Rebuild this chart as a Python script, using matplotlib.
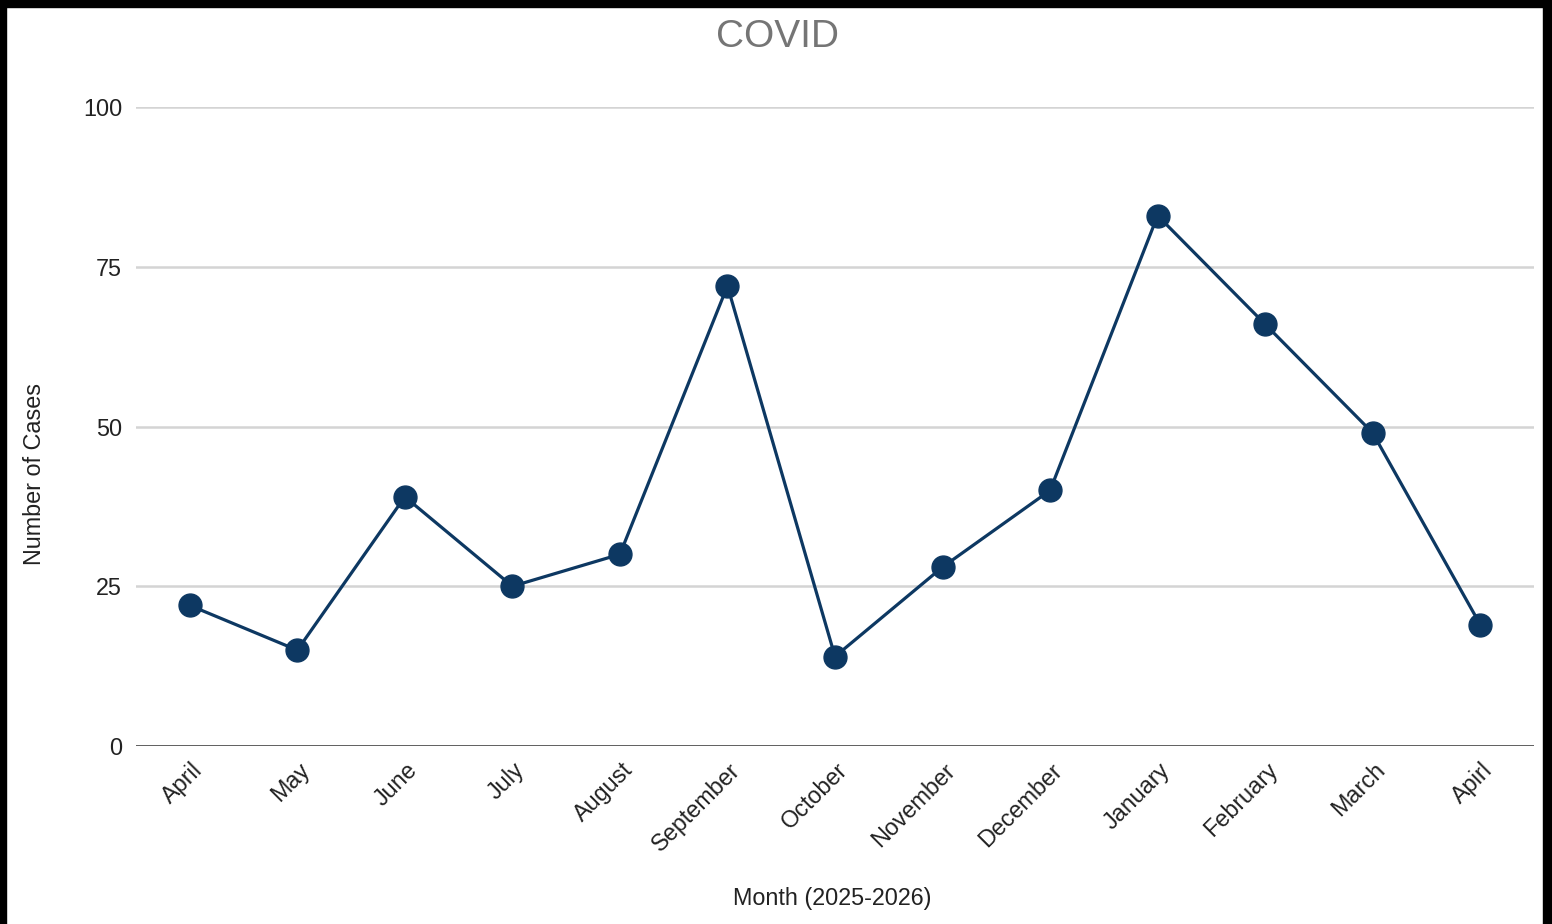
import matplotlib.pyplot as plt
import matplotlib.transforms as mtransforms
from matplotlib.patches import Rectangle

months = ["April", "May", "June", "July", "August", "September", "October",
          "November", "December", "January", "February", "March", "Apirl"]
cases = [22, 15, 39, 25, 30, 72, 14, 28, 40, 83, 66, 49, 19]
yticks = [0, 25, 50, 75, 100]

plt.rcParams['font.family'] = ['Liberation Sans', 'DejaVu Sans']

W, H = 1552, 924
fig = plt.figure(figsize=(W / 100, H / 100), dpi=100)
ax = fig.add_axes([136 / W, (H - 746) / H, (1534 - 136) / W, (746 - 107) / H])

x = list(range(len(months)))
ax.plot(x, cases, color="#0d3862", linewidth=2.3, marker="o",
        markersize=16.5, zorder=3, clip_on=False)

ax.set_xlim(-0.5, len(months) - 0.5)
ax.set_ylim(0, 100)
ax.set_yticks(yticks)
ax.set_yticklabels([str(v) for v in yticks], fontsize=16.8, color="#222222")
ax.tick_params(axis="y", length=0, pad=10)
ax.grid(axis="y", color="#d4d4d4", linewidth=1.8)
ax.axhline(0, color="#555555", linewidth=2.0, zorder=2)
for s in ax.spines.values():
    s.set_visible(False)

ax.set_xticks(x)
ax.set_xticklabels(months, fontsize=16.8, color="#222222", rotation=45,
                   ha="right", va="center", rotation_mode="anchor")
ax.tick_params(axis="x", length=0, pad=15)
off = mtransforms.ScaledTranslation(9 / 100, 0, fig.dpi_scale_trans)
for lab in ax.get_xticklabels():
    lab.set_transform(lab.get_transform() + off)

fig.text(777 / W, 1 - 37 / H, "COVID", fontsize=28, color="#757575",
         ha="center", va="center")
fig.text(832 / W, 1 - 899 / H, "Month (2025-2026)", fontsize=16.8,
         color="#222222", ha="center", va="center")
fig.text(35 / W, 1 - 474 / H, "Number of Cases", fontsize=16.8,
         color="#222222", ha="center", va="center", rotation=90)

# black frame around the screenshot
for rx, ry, rw, rh in [(0, H - 7, W, 7), (0, 0, 6, H), (W - 9, 0, 9, H)]:
    fig.patches.append(Rectangle((rx / W, ry / H), rw / W, rh / H,
                                 transform=fig.transFigure, color="black",
                                 zorder=10))

fig.savefig("out.png", dpi=100)
